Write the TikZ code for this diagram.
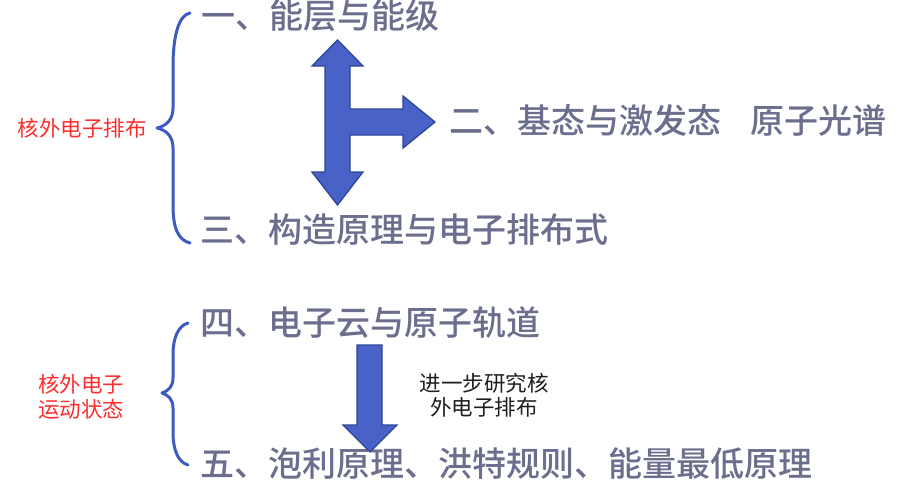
\documentclass[tikz,border=0pt]{standalone}
\usepackage{fontspec}
\newfontfamily\cjk{Noto Sans CJK SC}
\newfontfamily\cjkb{Noto Sans CJK SC Medium}
\definecolor{titlec}{RGB}{108,110,142}
\definecolor{redc}{RGB}{255,45,45}
\definecolor{bracec}{RGB}{62,92,192}
\definecolor{arrowfill}{RGB}{72,98,200}
\definecolor{arrowline}{RGB}{45,70,150}
\definecolor{notec}{RGB}{30,30,30}
\tikzset{
  title/.style={anchor=west,inner sep=0pt,text=titlec,font=\cjkb\fontsize{34}{40}\selectfont},
  redlabel/.style={inner sep=0pt,text=redc,align=center,font=\cjk\fontsize{21.5}{25}\selectfont},
  note/.style={inner sep=0pt,text=notec,align=center,font=\cjk\fontsize{21.5}{24}\selectfont},
  bracestyle/.style={draw=bracec,line width=3pt,line cap=round,line join=round},
  blockarrow/.style={fill=arrowfill,draw=arrowline,line width=1.3pt,line join=miter}
}
\begin{document}
\begin{tikzpicture}[x=1pt,y=-1pt]
\useasboundingbox[fill=white] (0,0) rectangle (900,485);

% titles
\node[title] (t1) at (201,16) {一、能层与能级};
\node[title] (t2) at (449,120) {二、基态与激发态\hspace{0.85em}原子光谱};
\node[title] (t3) at (200,230) {三、构造原理与电子排布式};
\node[title] (t4) at (200,323) {四、电子云与原子轨道};
\node[title] (t5) at (200,464) {五、泡利原理、洪特规则、能量最低原理};

% red labels
\node[redlabel] (r1) at (82,128) {核外电子排布};
\node[redlabel] (r2) at (81,397) {核外电子\\运动状态};

% note
\node[note] (n1) at (484,395) {进一步研究核\\外电子排布};

% braces
\draw[bracestyle] (190,13) .. controls (179,15) and (173,35) .. (173,67)
  -- (173,108) .. controls (173,120) and (166,126) .. (157,128)
  .. controls (166,130) and (173,136) .. (173,148)
  -- (173,205) .. controls (173,228) and (178,240) .. (190,243);
\draw[bracestyle] (188,323) .. controls (178,326) and (173,338) .. (173,355)
  -- (173,378) .. controls (173,387) and (168,391) .. (162,393)
  .. controls (168,395) and (173,399) .. (173,408)
  -- (173,432) .. controls (173,450) and (178,462) .. (188,465);

% T-shaped block arrow
\draw[blockarrow] (337.5,40) -- (363,66) -- (350,66) -- (350,109) -- (403,109)
  -- (403,96) -- (435,122) -- (403,148) -- (403,135) -- (350,135) -- (350,172)
  -- (363,172) -- (337.5,205) -- (312,172) -- (325,172) -- (325,66) -- (312,66) -- cycle;

% down block arrow
\draw[blockarrow] (357,345) -- (382,345) -- (382,425) -- (397,425) -- (370,452)
  -- (343,425) -- (357,425) -- cycle;
\end{tikzpicture}
\end{document}
